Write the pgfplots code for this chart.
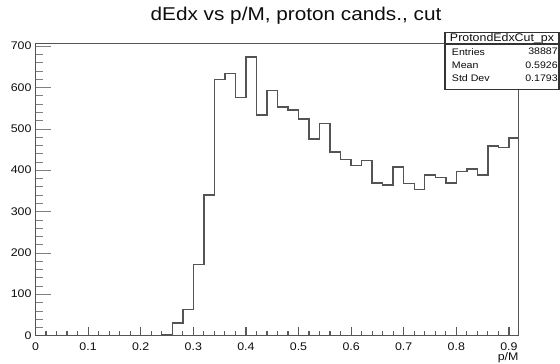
\documentclass[border=0pt]{standalone}
\usepackage{pgfplots}
\pgfplotsset{compat=1.18}
\usepackage{fontspec}
\setmainfont{Liberation Sans}[FakeStretch=1.12]
\definecolor{linec}{gray}{0.33}
\definecolor{textc}{gray}{0.05}
\begin{document}
\begin{tikzpicture}
% main axis: frame, histogram, x ticks
\begin{axis}[
  at={(26.625pt,19.875pt)}, anchor=south west,
  scale only axis, width=362.4pt, height=219.15pt,
  xmin=0, xmax=0.9186, ymin=0, ymax=706.5,
  xtick={0,0.1,0.2,0.3,0.4,0.5,0.6,0.7,0.8,0.9},
  xticklabels={0,0.1,0.2,0.3,0.4,0.5,0.6,0.7,0.8,0.9},
  minor x tick num=4,
  ytick=\empty,
  tick align=inside, xtick pos=bottom,
  major tick length=6pt, minor tick length=3pt,
  axis line style={linec, line width=1pt},
  tick style={black!65, line width=0.9pt},
  xticklabel style={font=\fontsize{8.3pt}{9pt}\selectfont, text=textc, inner sep=0pt, anchor=north, yshift=-5.3pt},
  xlabel={p/M},
  xlabel style={at={(rel axis cs:1,0)}, anchor=north east, inner sep=0pt, yshift=-12.8pt, font=\fontsize{8.3pt}{9pt}\selectfont, text=textc},
  clip=false,
]
\addplot[const plot mark left, linec, line width=1.1pt] coordinates {
(0,0) (0.22,0) (0.24,2) (0.26,30) (0.28,63) (0.30,172) (0.32,340) (0.34,619)
(0.36,633) (0.38,575) (0.40,673) (0.42,533) (0.44,592) (0.46,553) (0.48,545)
(0.50,523) (0.52,475) (0.54,513) (0.56,444) (0.58,426) (0.60,411) (0.62,423)
(0.64,369) (0.66,364) (0.68,407) (0.70,368) (0.72,353) (0.74,388) (0.76,382)
(0.78,369) (0.80,396) (0.82,402) (0.84,388) (0.86,458) (0.88,455) (0.90,478)
(0.9186,478)
};
\end{axis}
% second axis: y ticks only
\begin{axis}[
  at={(26.625pt,19.875pt)}, anchor=south west,
  scale only axis, width=362.4pt, height=219.15pt,
  xmin=0, xmax=0.9186, ymin=0, ymax=706.5,
  xtick=\empty,
  ytick={0,100,200,300,400,500,600,700},
  minor y tick num=4,
  tick align=inside, ytick pos=left,
  major tick length=11.25pt, minor tick length=5.6pt,
  axis line style={linec, line width=1pt},
  yticklabel style={font=\fontsize{8.3pt}{9pt}\selectfont, text=textc, inner sep=0pt, anchor=east, xshift=-2.85pt},
  /pgf/number format/assume math mode=true,
]
\addplot[draw=none, forget plot] coordinates {(0.5,-10)};
\end{axis}
% title
\node[anchor=base, inner sep=0pt, text=textc, font=\fontsize{13.9pt}{16pt}\selectfont] at (222pt,255.975pt) {dEdx vs p/M, proton cands., cut};
% stat box
\filldraw[fill=white, draw=black!80, line width=0.8pt] (333.75pt,204.525pt) rectangle (419.25pt,247.275pt);
\draw[black!80, line width=0.8pt] (333.75pt,238.5pt) -- (419.25pt,238.5pt);
\node[anchor=center, inner sep=0pt, text=textc, font=\fontsize{8.3pt}{9pt}\selectfont] at (376.5pt,242.775pt) {ProtondEdxCut\_px};
\begin{scope}[every node/.style={inner sep=0pt, text=textc, font=\fontsize{7.1pt}{8pt}\selectfont}]
\node[anchor=west] at (338.775pt,232.725pt) {Entries};
\node[anchor=east] at (418.5pt,232.725pt) {38887};
\node[anchor=west] at (338.775pt,222.225pt) {Mean};
\node[anchor=east] at (418.5pt,222.225pt) {0.5926};
\node[anchor=west] at (338.775pt,212.775pt) {Std Dev};
\node[anchor=east] at (418.5pt,212.775pt) {0.1793};
\end{scope}
\path (0,0) rectangle (420pt,271.5pt);
\end{tikzpicture}
\end{document}
